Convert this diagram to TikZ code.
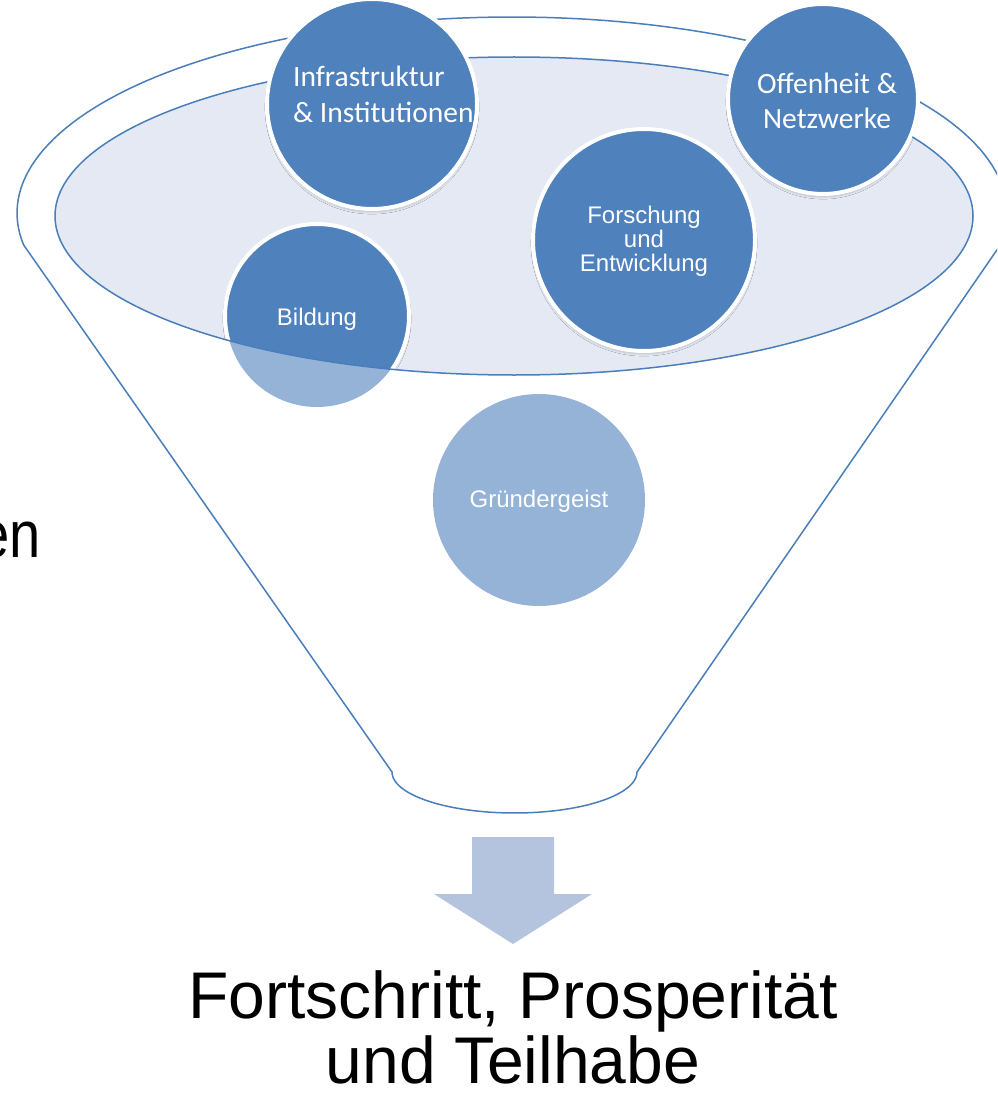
\documentclass[tikz,border=0pt]{standalone}
\usepackage{fontspec}
\setmainfont{Liberation Sans}
\newfontfamily\calib{Carlito}
\usetikzlibrary{shadows.blur}
\definecolor{cdark}{HTML}{4F81BD}
\definecolor{clight}{HTML}{95B3D7}
\definecolor{cline}{HTML}{4A7EBB}
\definecolor{cfill}{HTML}{E4E9F3}
\definecolor{carrow}{HTML}{B4C4DF}
\begin{document}
\begin{tikzpicture}[x=1pt,y=-1pt,
  funnelline/.style={draw=cline, line width=1.5pt, line join=round},
  darkball/.style={circle, fill=cdark, draw=white, line width=4pt, inner sep=0pt,
    blur shadow={shadow xshift=0pt, shadow yshift=-3pt, shadow opacity=18, shadow blur steps=6}},
  lightball/.style={circle, fill=clight, inner sep=0pt},
  cal/.style={text=white, font=\calib\fontsize{29.5}{34}\selectfont, anchor=base, inner sep=0pt},
  ari/.style={text=white, font=\fontsize{24}{24}\selectfont, anchor=base, inner sep=0pt},
  big/.style={text=black, font=\fontsize{66}{66}\selectfont, anchor=base, inner sep=0pt}]
\useasboundingbox (0,0) rectangle (997,1094);
\clip (0,0) rectangle (997,1094);
% funnel outline
\draw[funnelline] plot[domain=170.6:369.4, samples=120] ({512+495*cos(\x)},{213+196*sin(\x)})
  -- (637,772) -- plot[domain=0:180, samples=60] ({514.5+122.5*cos(\x)},{772+41*sin(\x)}) -- cycle;
% inner ellipse
\fill[cfill] (514,216) ellipse [x radius=459, y radius=159];
% Bildung
\node[lightball, minimum size=182pt] (bildL) at (317,316) {};
\begin{scope}
  \clip (514,216) ellipse [x radius=459, y radius=159];
  \node[darkball, minimum size=184pt] (bild) at (317,316) {};
\end{scope}
\draw[cline, line width=1.5pt] (514,216) ellipse [x radius=459, y radius=159];
% other circles
\node[darkball, minimum size=222pt] (fue) at (644,240) {};
\node[lightball, minimum size=212pt] (gruend) at (539,500) {};
\node[darkball, minimum size=210pt] (infra) at (372,104) {};
\node[darkball, minimum size=190pt] (offen) at (823,99) {};
% texts
\node[cal, anchor=base west] (infra1) at (293,87) {Infrastruktur};
\node[cal, anchor=base west] (infra2) at (293,123) {\& Institutionen};
\node[cal] (offen1) at (827,94) {Offenheit \&};
\node[cal] (offen2) at (827,129) {Netzwerke};
\node[ari] (fue1) at (644,223) {Forschung};
\node[ari] (fue2) at (644,247) {und};
\node[ari] (fue3) at (644,271) {Entwicklung};
\node[ari] (bild1) at (317,325) {Bildung};
\node[ari] (gr1) at (539,507) {Gründergeist};
% arrow
\fill[carrow] (472,837) -- (554,837) -- (554,894) -- (592,894) -- (513,944) -- (434,894) -- (472,894) -- cycle;
% result text
\node[big] (res1) at (513,1018) {Fortschritt, Prosperität};
\node[big] (res2) at (513,1083) {und Teilhabe};
\node[big, anchor=base east] (en) at (41,557) {\scalebox{0.85}[1]{en}};
\end{tikzpicture}
\end{document}
